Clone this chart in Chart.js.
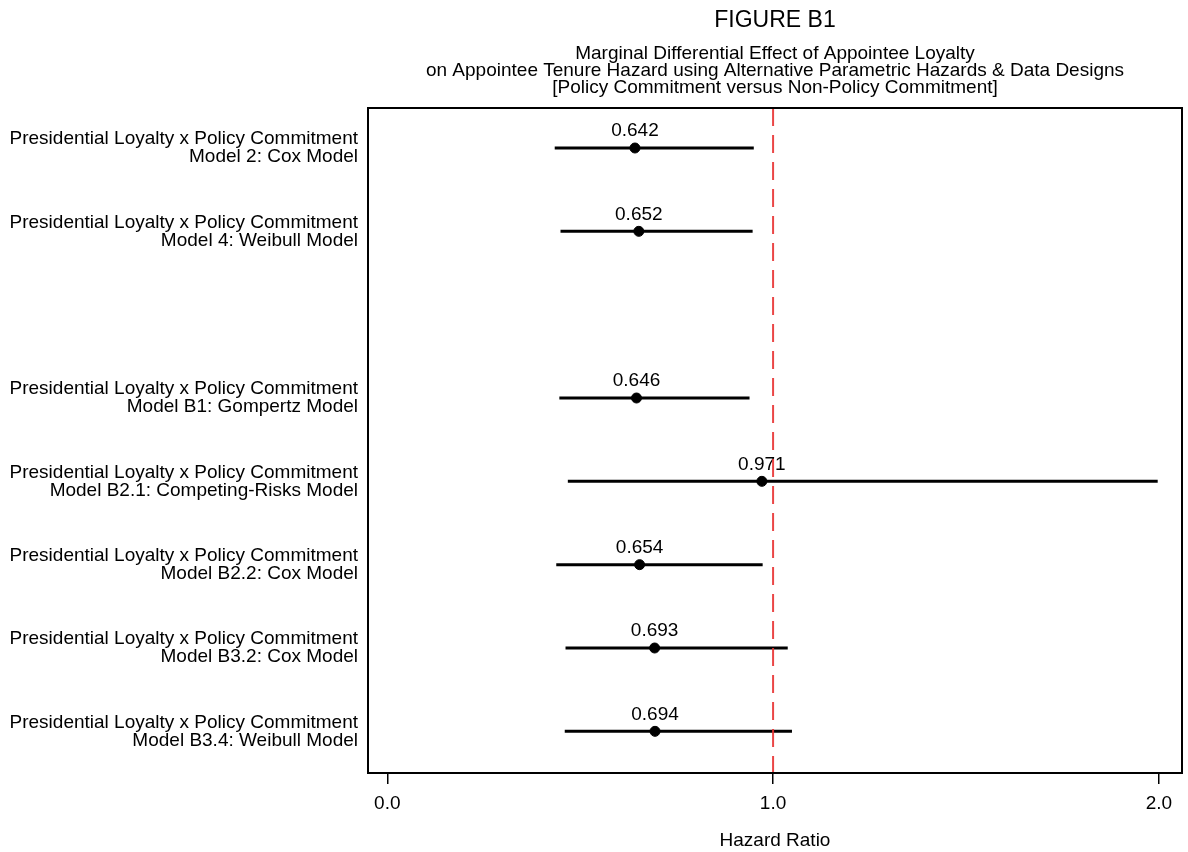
<!DOCTYPE html>
<html>
<head>
<meta charset="utf-8">
<title>Figure B1</title>
<script src="https://cdn.jsdelivr.net/npm/chart.js@4.4.1/dist/chart.umd.min.js"></script>
<style>
  html, body { margin: 0; padding: 0; background: #ffffff; }
  #wrap { width: 1188px; height: 852px; position: relative; }
</style>
</head>
<body>
<div id="wrap"><canvas id="chart"></canvas></div>
<script>
// ---- data ----
const effectLabel = "Presidential Loyalty x Policy Commitment";
const modelNames = [
  "Model 2: Cox Model",
  "Model 4: Weibull Model",
  "Model B1: Gompertz Model",
  "Model B2.1: Competing-Risks Model",
  "Model B2.2: Cox Model",
  "Model B3.2: Cox Model",
  "Model B3.4: Weibull Model"
];
// row slots (slot 2 is left blank as a separator)
const rowPositions = [0, 1, 3, 4, 5, 6, 7];
const hazardRatios = [0.642, 0.652, 0.646, 0.971, 0.654, 0.693, 0.694];
const ciLower      = [0.434, 0.449, 0.446, 0.468, 0.438, 0.462, 0.460];
const ciUpper      = [0.950, 0.947, 0.939, 1.997, 0.973, 1.038, 1.049];
const xTickValues  = [0, 1, 2];
const referenceValue = 1;

const figureTitle = "FIGURE B1";
const subtitleLines = [
  "Marginal Differential Effect of Appointee Loyalty",
  "on Appointee Tenure Hazard using Alternative Parametric Hazards & Data Designs",
  "[Policy Commitment versus Non-Policy Commitment]"
];
const xAxisTitle = "Hazard Ratio";

// ---- styling ----
const FONT = "'Liberation Sans', Arial, Helvetica, sans-serif";
Chart.defaults.font.family = FONT;
Chart.defaults.color = "#000000";

// one two-point segment per model for the confidence interval
const ciDatasets = rowPositions.map((pos, i) => ({
  type: "scatter",
  showLine: true,
  data: [{ x: ciLower[i], y: pos }, { x: ciUpper[i], y: pos }],
  borderColor: "#000000",
  borderWidth: 3,
  pointRadius: 0,
  order: 2
}));

const pointDataset = {
  type: "scatter",
  data: rowPositions.map((pos, i) => ({ x: hazardRatios[i], y: pos })),
  backgroundColor: "#000000",
  borderColor: "#000000",
  pointRadius: 5,
  pointHoverRadius: 5,
  order: 1
};

const forestDecor = {
  id: "forestDecor",
  afterDatasetsDraw(chart) {
    const { ctx, chartArea: a, scales: { x, y } } = chart;
    ctx.save();

    // estimate labels above the points
    ctx.fillStyle = "#000000";
    ctx.font = "19px " + FONT;
    ctx.textAlign = "center";
    ctx.textBaseline = "middle";
    rowPositions.forEach((pos, i) => {
      ctx.fillText(hazardRatios[i].toFixed(3), x.getPixelForValue(hazardRatios[i]), y.getPixelForValue(pos) - 17);
    });

    // reference line at HR = 1
    const rx = x.getPixelForValue(referenceValue);
    ctx.strokeStyle = "rgba(232, 50, 50, 0.9)";
    ctx.lineWidth = 2;
    ctx.setLineDash([18, 9]);
    ctx.beginPath();
    ctx.moveTo(rx, a.top);
    ctx.lineTo(rx, a.bottom);
    ctx.stroke();
    ctx.setLineDash([]);

    // frame around the plot region
    ctx.strokeStyle = "#000000";
    ctx.lineWidth = 2;
    ctx.strokeRect(a.left, a.top, a.right - a.left, a.bottom - a.top);

    // titles centred over the plot region
    const cx = (a.left + a.right) / 2;
    ctx.font = "23px " + FONT;
    ctx.fillText(figureTitle, cx, 21);
    ctx.font = "19px " + FONT;
    subtitleLines.forEach((line, k) => ctx.fillText(line, cx, 54 + k * 17));

    ctx.restore();
  }
};

new Chart(document.getElementById("chart"), {
  data: { datasets: [...ciDatasets, pointDataset] },
  options: {
    responsive: true,
    maintainAspectRatio: false,
    animation: false,
    events: [],
    layout: { padding: { top: 108, right: 4, left: 0, bottom: 0 } },
    plugins: { legend: { display: false }, tooltip: { enabled: false }, title: { display: false } },
    scales: {
      x: {
        type: "linear",
        position: "bottom",
        min: -0.05,
        max: 2.06,
        afterBuildTicks: (s) => { s.ticks = xTickValues.map(v => ({ value: v })); },
        afterFit: (s) => { s.height = 79; },
        grid: { display: true, drawOnChartArea: false, drawTicks: true, tickLength: 11, color: "#000000", lineWidth: 1.5 },
        border: { display: false },
        ticks: { font: { size: 19 }, padding: 8, color: "#000000", callback: (v) => Number(v).toFixed(1) },
        title: { display: true, text: xAxisTitle, font: { size: 19 }, color: "#000000", padding: { top: 0, bottom: 0 } }
      },
      y: {
        type: "linear",
        position: "left",
        reverse: true,
        min: -0.48,
        max: 7.5,
        afterBuildTicks: (s) => { s.ticks = rowPositions.map(v => ({ value: v })); },
        afterFit: (s) => { s.width = 368; },
        grid: { display: false, drawTicks: false },
        border: { display: false },
        ticks: {
          font: { size: 19, lineHeight: 0.95 },
          padding: 10,
          color: "#000000",
          callback: (v) => {
            const i = rowPositions.indexOf(Number(v));
            return i < 0 ? "" : [effectLabel, modelNames[i]];
          }
        }
      }
    }
  },
  plugins: [forestDecor]
});
</script>
</body>
</html>
